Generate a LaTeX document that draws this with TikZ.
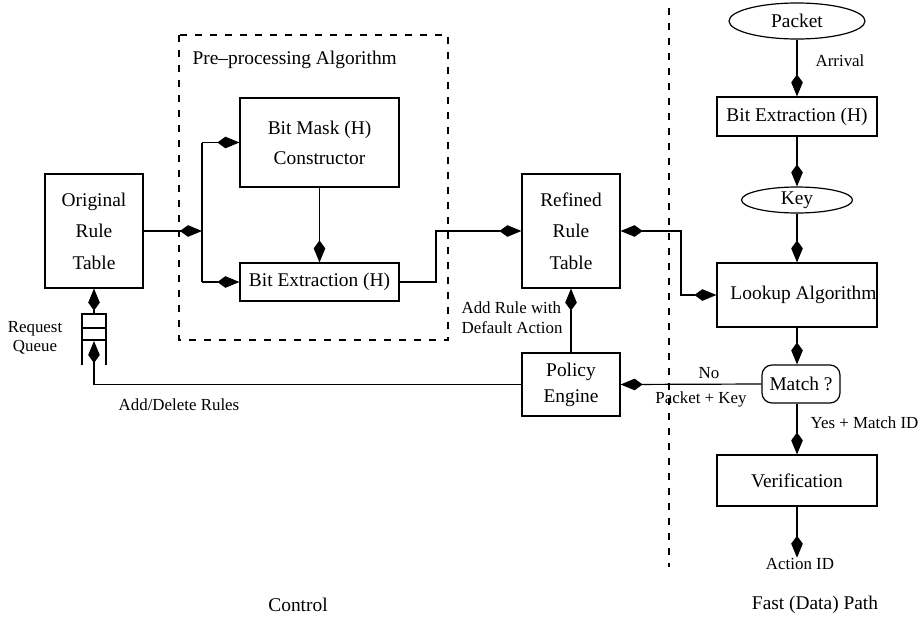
\documentclass[tikz,border=0pt]{standalone}
\usepackage{fontspec}
\setmainfont{Liberation Serif}
\usetikzlibrary{arrows.meta,shapes.geometric}
\begin{document}
\begin{tikzpicture}[x=0.5pt,y=-0.5pt,line width=0.6pt,
  every node/.style={inner sep=0pt},
  mainf/.style={font=\fontsize{9.7}{15.75}\selectfont},
  smallf/.style={font=\fontsize{8.45}{10}\selectfont},
  blk/.style={draw,rectangle,align=center,mainf},
  oval/.style={draw,ellipse,mainf},
  lbl/.style={smallf,align=center},
  kitetip/.tip={Kite[length=11pt,width=5.8pt,inset=4pt]},
  tip/.style={-kitetip},
  bothtip/.style={kitetip-kitetip},
  dashpat/.style={dash pattern=on 3.5pt off 4pt}]
\useasboundingbox (0,0) rectangle (920,632);

% ---- control side ----
\draw[dashpat] (179,35) rectangle (448,340);
\node[mainf,anchor=west] (pre) at (192,60) {Pre–processing Algorithm};

\node[blk,minimum width=49pt,minimum height=57pt] (orig) at (94,231) {Original\\Rule\\Table};
\node[blk,minimum width=79.5pt,minimum height=44.5pt,font=\fontsize{9.7}{15}\selectfont] (mask) at (319.5,142.5) {Bit Mask (H)\\Constructor};
\node[blk,minimum width=79.5pt,minimum height=19pt] (bext) at (319.5,282) {Bit Extraction (H)};
\node[blk,minimum width=49pt,minimum height=57pt] (refined) at (571,231) {Refined\\Rule\\Table};
\node[blk,minimum width=49pt,minimum height=31.5pt,font=\fontsize{9.7}{13}\selectfont] (policy) at (571,384.5) {Policy\\Engine};

% request queue
\draw (82,365) -- (82,314) -- (106,314) -- (106,365);
\draw (82,328) -- (106,328);
\draw (82,340) -- (106,340);
\coordinate (qtop) at (94,314);
\coordinate (qbot) at (94,341);
\node[lbl,font=\fontsize{8.45}{9.5}\selectfont] (rq) at (35,338) {Request\\Queue};

\coordinate (j1) at (202,231);
\coordinate (j2) at (436,231);
\coordinate (j3) at (681,231);

\draw[tip] (orig.east) -- (j1);
\draw (j1 |- mask.west) -- (j1 |- bext.west);
\draw[tip] (j1 |- mask.west) -- (mask.west);
\draw[tip] (j1 |- bext.west) -- (bext.west);
\draw[tip] (mask.south) -- (bext.north);
\draw[tip] (bext.east) -| (j2) -- (refined.west);
\draw[tip] (policy.north) -- (refined.south);
\node[lbl,align=left] (addrule) at (512,318) {Add Rule with\\Default Action};
\draw[tip] (qtop) -- (qtop |- orig.south);
\draw[tip] (policy.west) -| (qbot);
\node[lbl] (adl) at (179,405) {Add/Delete Rules};

% ---- separator ----
\draw[dashpat] (669,8) -- (669,567);

% ---- fast path ----
\node[oval,minimum width=68pt,minimum height=18pt] (packet) at (797,21) {Packet};
\node[blk,minimum width=80pt,minimum height=19.5pt] (bext2) at (797,116.5) {Bit Extraction (H)};
\node[oval,minimum width=55.5pt,minimum height=13pt] (key) at (797,200) {Key};
\node[blk,minimum width=80pt,minimum height=32pt] (lookup) at (797,295) {\hspace*{6.5pt}Lookup Algorithm};
\node[blk,rounded corners=5pt,minimum width=39pt,minimum height=19pt] (match) at (801,384) {Match ?};
\node[blk,minimum width=80pt,minimum height=25.5pt] (verif) at (797,480.5) {Verification};
\node[lbl] (aid) at (800,564) {Action ID};

\draw[tip] (packet.south) -- (bext2.north);
\node[lbl] (arrival) at (840,61) {Arrival};
\draw[tip] (bext2.south) -- (key.north);
\draw[tip] (key.south) -- (lookup.north);
\draw[tip] (lookup.south) -- (lookup.south |- match.north);
\draw[tip] (verif.north |- match.south) -- (verif.north);
\node[lbl,anchor=west] (yeslbl) at (810,423) {Yes + Match ID};
\draw[tip] (verif.south) -- (verif.south |- aid.north);
\draw[tip] (match.west) -- (policy.east);
\node[lbl] (nolbl) at (709,373) {No};
\node[lbl] (pklbl) at (701,399) {Packet + Key};
\draw[bothtip] (refined.east) -- (j3) |- (lookup.west);

% ---- region captions ----
\node[mainf] (ctl) at (298,605) {Control};
\node[mainf] (fast) at (815,605) {Fast (Data) Path};
\end{tikzpicture}
\end{document}
